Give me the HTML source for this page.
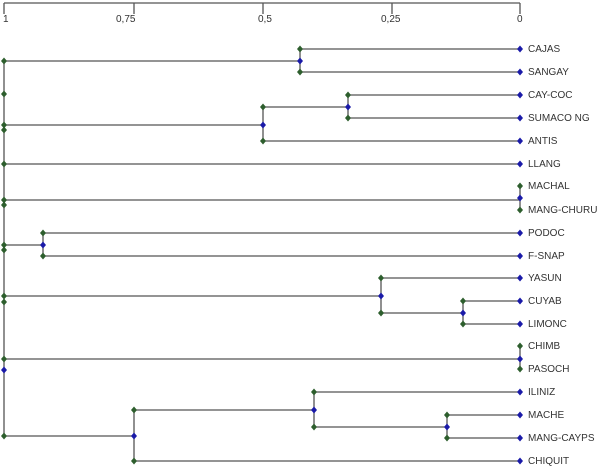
<!DOCTYPE html>
<html><head><style>body{margin:0;background:#fff}svg{display:block}text{font-family:"Liberation Sans",sans-serif;font-size:10px;fill:#333}</style></head>
<body>
<svg width="607" height="469" viewBox="0 0 607 469">
<defs>
<path id="g" d="M0,-3.5L3,0L0,3.5L-3,0Z" fill="#2d5e2d"/>
<path id="b" d="M0,-3.5L3,0L0,3.5L-3,0Z" fill="#1a1aa8"/>
</defs>
<g stroke="#555" stroke-width="1.3" fill="none">
<path d="M4,3H520M4,3V14M134,3V14M263,3V14M392,3V14M520,3V14"/>
<path d="M4,61V436"/>
<path d="M4,61H300M300,49V72M300,49H520M300,72H520"/>
<path d="M348,95V118M348,95H520M348,118H520M263,107H348M263,107V141M263,141H520M4,125H263"/>
<path d="M4,164H520"/>
<path d="M4,200H520M520,186V210"/>
<path d="M4,245H43M43,233V256M43,233H520M43,256H520"/>
<path d="M463,301V324M463,301H520M463,324H520M381,313H463M381,278V313M381,278H520M4,296H381"/>
<path d="M4,359H520M520,346V369"/>
<path d="M447,415V438M447,415H520M447,438H520M314,427H447M314,392V427M314,392H520M134,410H314M134,410V461M134,461H520M4,436H134"/>
</g>
<g>
<use href="#g" x="300" y="49"/><use href="#g" x="300" y="72"/><use href="#b" x="300" y="61"/>
<use href="#g" x="348" y="95"/><use href="#g" x="348" y="118"/><use href="#b" x="348" y="107"/>
<use href="#g" x="263" y="107"/><use href="#g" x="263" y="141"/><use href="#b" x="263" y="125"/>
<use href="#g" x="520" y="186"/><use href="#g" x="520" y="210"/><use href="#b" x="520" y="198"/>
<use href="#g" x="43" y="233"/><use href="#g" x="43" y="256"/><use href="#b" x="43" y="245"/>
<use href="#g" x="463" y="301"/><use href="#g" x="463" y="324"/><use href="#b" x="463" y="313"/>
<use href="#g" x="381" y="278"/><use href="#g" x="381" y="313"/><use href="#b" x="381" y="296"/>
<use href="#g" x="520" y="346"/><use href="#g" x="520" y="369"/><use href="#b" x="520" y="359"/>
<use href="#g" x="447" y="415"/><use href="#g" x="447" y="438"/><use href="#b" x="447" y="427"/>
<use href="#g" x="314" y="392"/><use href="#g" x="314" y="427"/><use href="#b" x="314" y="410"/>
<use href="#g" x="134" y="410"/><use href="#g" x="134" y="461"/><use href="#b" x="134" y="436"/>
<use href="#g" x="4" y="61"/><use href="#g" x="4" y="94"/><use href="#g" x="4" y="125"/><use href="#g" x="4" y="130"/>
<use href="#g" x="4" y="164"/><use href="#g" x="4" y="200"/><use href="#g" x="4" y="205"/><use href="#g" x="4" y="245"/>
<use href="#g" x="4" y="250"/><use href="#g" x="4" y="296"/><use href="#g" x="4" y="302"/><use href="#g" x="4" y="359"/>
<use href="#b" x="4" y="370"/><use href="#g" x="4" y="436"/>
<use href="#b" x="520" y="49"/><use href="#b" x="520" y="72"/><use href="#b" x="520" y="95"/><use href="#b" x="520" y="118"/><use href="#b" x="520" y="141"/><use href="#b" x="520" y="164"/>
<use href="#b" x="520" y="233"/><use href="#b" x="520" y="256"/><use href="#b" x="520" y="278"/><use href="#b" x="520" y="301"/><use href="#b" x="520" y="324"/>
<use href="#b" x="520" y="392"/><use href="#b" x="520" y="415"/><use href="#b" x="520" y="438"/><use href="#b" x="520" y="461"/>
</g>
<text x="3" y="22">1</text><text x="116" y="22">0,75</text><text x="258" y="22">0,5</text><text x="381" y="22">0,25</text><text x="517" y="22">0</text>
<g>
<text x="528" y="52">CAJAS</text><text x="528" y="75">SANGAY</text><text x="528" y="98">CAY-COC</text><text x="528" y="121">SUMACO NG</text><text x="528" y="144">ANTIS</text><text x="528" y="167">LLANG</text><text x="528" y="189">MACHAL</text><text x="528" y="213">MANG-CHURU</text><text x="528" y="236">PODOC</text><text x="528" y="259">F-SNAP</text><text x="528" y="281">YASUN</text><text x="528" y="304">CUYAB</text><text x="528" y="327">LIMONC</text><text x="528" y="349">CHIMB</text><text x="528" y="372">PASOCH</text><text x="528" y="395">ILINIZ</text><text x="528" y="418">MACHE</text><text x="528" y="441">MANG-CAYPS</text><text x="528" y="464">CHIQUIT</text>
</g>
</svg>
</body></html>
